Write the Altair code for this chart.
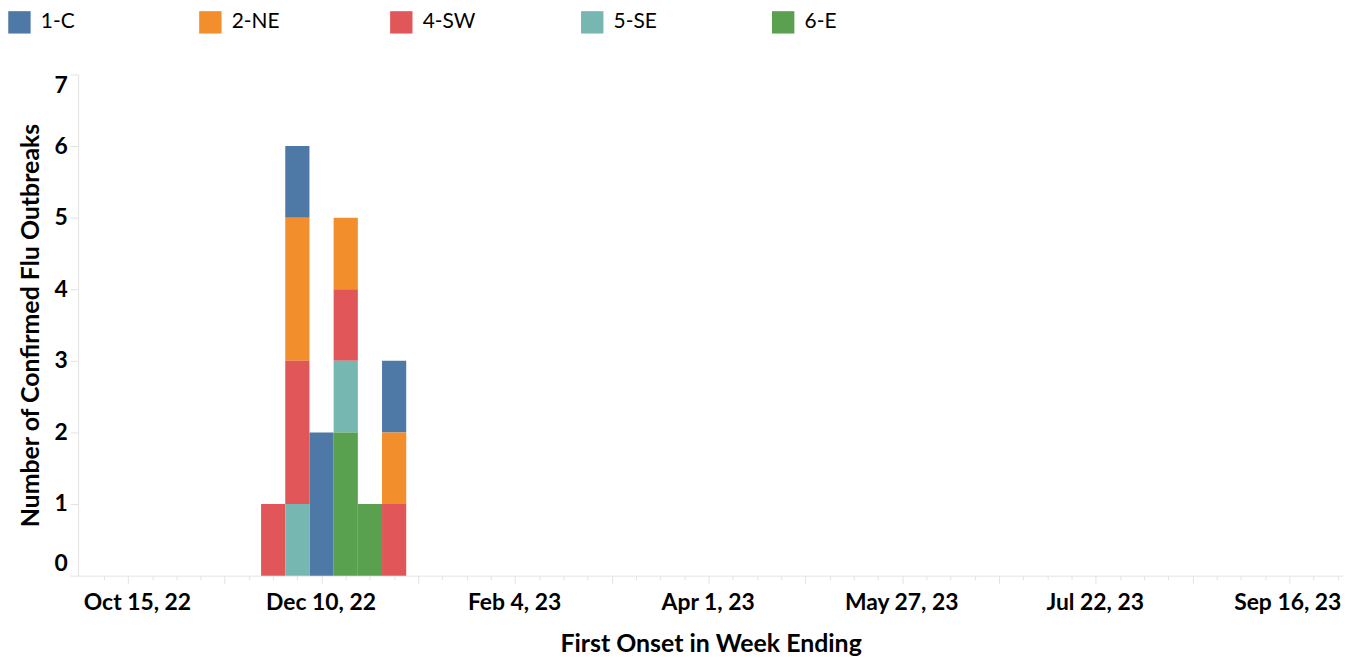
import altair as alt
import pandas as pd

# ---- data ----
WEEKS = ["2022-11-26", "2022-12-03", "2022-12-10", "2022-12-17", "2022-12-24", "2022-12-31"]
REGIONS = ["1-C", "2-NE", "4-SW", "5-SE", "6-E"]
COLORS = ["#4e79a7", "#f28e2b", "#e15759", "#76b7b2", "#59a14f"]
C_1 = [0, 1, 2, 0, 0, 1]
NE_2 = [0, 2, 0, 1, 0, 1]
SW_4 = [1, 2, 0, 1, 0, 1]
SE_5 = [0, 1, 0, 1, 0, 0]
E_6 = [0, 0, 0, 2, 1, 0]
LABEL_DATES = ["2022-10-15", "2022-12-10", "2023-02-04", "2023-04-01",
               "2023-05-27", "2023-07-22", "2023-09-16"]
Y_TICKS = [0, 1, 2, 3, 4, 5, 6, 7]

FONT = "Lato"
AXIS_GREY = "#e3e3e3"

rows = []
for rank, (region, vals) in enumerate(zip(REGIONS, [C_1, NE_2, SW_4, SE_5, E_6])):
    for w, v in zip(WEEKS, vals):
        if v:
            rows.append({"week": w, "region": region, "count": v, "rank": rank})
df = pd.DataFrame(rows)
wk = pd.to_datetime(df["week"])
df["start"] = (wk - pd.Timedelta(hours=84)).dt.strftime("%Y-%m-%dT%H:%M:%S")
df["end"] = (wk + pd.Timedelta(hours=84)).dt.strftime("%Y-%m-%dT%H:%M:%S")

# weekly tick positions (Saturdays) across the season
tick_days = pd.date_range("2022-10-08", "2023-09-30", freq="7D")
tick_values = [alt.DateTime(year=d.year, month=d.month, date=d.day) for d in tick_days]

label_list = ",".join("'%s'" % d for d in LABEL_DATES)
label_expr = (
    "indexof([%s], timeFormat(datum.value, '%%Y-%%m-%%d')) >= 0 ? "
    "timeFormat(datum.value, '%%b %%-d, %%y') : ''" % label_list
)
long_tick = "round((datum.value - datetime(2022, 9, 15)) / 86400000) % 28 == 0"

x_axis = alt.Axis(
    values=tick_values,
    labelExpr=label_expr,
    labelFont=FONT,
    labelFontSize=23,
    labelFontWeight="bold",
    labelColor="#000000",
    labelPadding=8,
    labelOverlap=False,
    labelOffset={"condition": [
        {"test": "month(datum.value) == 9", "value": 9},
        {"test": "month(datum.value) == 8", "value": -2}], "value": -1},
    tickSize={"condition": {"test": long_tick, "value": 8}, "value": 4},
    tickColor=AXIS_GREY,
    domainColor=AXIS_GREY,
    grid=False,
    title="First Onset in Week Ending",
    titleFont=FONT,
    titleFontSize=25,
    titleFontWeight="bold",
    titleColor="#000000",
    titlePadding=17,
)

y_axis = alt.Axis(
    values=Y_TICKS,
    labelFlush=True,
    labelFont=FONT,
    labelFontSize=23,
    labelFontWeight="bold",
    labelColor="#000000",
    labelPadding=3,
    tickSize=8,
    tickColor=AXIS_GREY,
    domainColor=AXIS_GREY,
    grid=False,
    title="Number of Confirmed Flu Outbreaks",
    titleFont=FONT,
    titleFontSize=25,
    titleFontWeight="bold",
    titleColor="#000000",
    titlePadding=10,
)

chart = (
    alt.Chart(df)
    .mark_bar(strokeWidth=0)
    .encode(
        x=alt.X("start:T", axis=x_axis,
                scale=alt.Scale(domain=[alt.DateTime(year=2022, month=10, date=2),
                                        alt.DateTime(year=2023, month=9, date=30, hours=3)])),
        x2="end:T",
        y=alt.Y("sum(count):Q", axis=y_axis, stack="zero",
                scale=alt.Scale(domain=[0, 7], nice=False)),
        color=alt.Color(
            "region:N",
            scale=alt.Scale(domain=REGIONS, range=COLORS),
            legend=alt.Legend(
                orient="none", legendX=-70.5, legendY=-64,
                direction="horizontal", columns=5, gridAlign="all",
                columnPadding=105, title=None,
                symbolType="square", symbolSize=506, symbolStrokeWidth=0,
                symbolOpacity=1, labelFont=FONT, labelFontSize=21,
                labelColor="#000000", labelOffset=10,
            ),
        ),
        order=alt.Order("rank:Q", sort="descending"),
    )
    .properties(
        width=1272, height=504,
        autosize=alt.AutoSizeParams(type="none"),
        padding={"left": 70.5, "top": 65, "right": 6, "bottom": 80},
    )
    .configure_view(stroke=None)
)

chart.save("out.html", embed_options={"renderer": "svg", "actions": False})
